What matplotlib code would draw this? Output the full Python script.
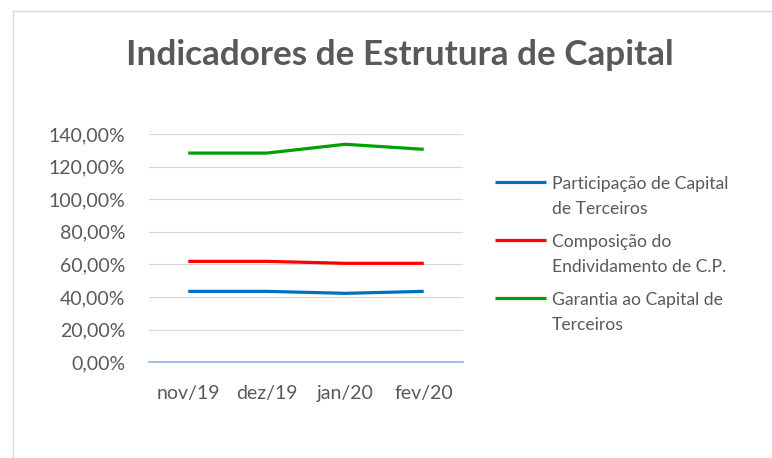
import matplotlib
matplotlib.use("Agg")
import matplotlib.pyplot as plt
from matplotlib.lines import Line2D
from matplotlib.legend_handler import HandlerLine2D
from matplotlib.ticker import FuncFormatter

plt.rcParams['font.family'] = ['Lato', 'DejaVu Sans']

categories = ["nov/19", "dez/19", "jan/20", "fev/20"]
participacao = [43.5, 43.5, 42.3, 43.5]
composicao = [61.9, 61.9, 60.7, 60.7]
garantia = [128.3, 128.3, 133.7, 130.6]
labels = ["Participação de Capital\nde Terceiros",
          "Composição do\nEndividamento de C.P.",
          "Garantia ao Capital de\nTerceiros"]
colors = ["#0070c0", "#ff0000", "#00a000"]
yticks = [0, 20, 40, 60, 80, 100, 120, 140]

TXT = "#595959"
W, H = 772, 458
fig = plt.figure(figsize=(W / 100, H / 100), dpi=100)
fig.patch.set_facecolor("white")

ax = fig.add_axes([149 / W, 1 - 362.3 / H, 314 / W, 228.3 / H])
x = list(range(len(categories)))
series = [participacao, composicao, garantia]
for vals, c, lab in zip(series, colors, labels):
    ax.plot(x, vals, color=c, lw=2.3, label=lab, solid_capstyle="butt", zorder=3)

ax.set_xlim(-0.5, len(categories) - 0.5)
ax.set_ylim(0, 140)
ax.set_yticks(yticks)
ax.yaxis.set_major_formatter(FuncFormatter(lambda v, p: f"{v:.2f}%".replace(".", ",")))
ax.set_xticks(x)
ax.set_xticklabels(categories)
ax.tick_params(axis="both", length=0, labelsize=14, colors=TXT)
ax.tick_params(axis="y", pad=17)
ax.tick_params(axis="x", pad=16)
ax.grid(axis="y", color="#d9d9d9", lw=0.9, zorder=1)
for s in ["top", "right", "left"]:
    ax.spines[s].set_visible(False)
ax.spines["bottom"].set_color("#8db4e2")
ax.spines["bottom"].set_linewidth(1.2)
ax.spines["bottom"].set_zorder(2)

LEG_FS = 12.6
LINESP = 1.72


class FirstLineHandler(HandlerLine2D):
    def create_artists(self, legend, orig_handle, xdescent, ydescent,
                       width, height, fontsize, trans):
        arts = super().create_artists(legend, orig_handle, xdescent, ydescent,
                                      width, height, fontsize, trans)
        for a in arts:
            yd = a.get_ydata()
            a.set_ydata([v + 0.5 * 1.2 * LINESP * fontsize * 0.85 for v in yd])
        return arts


handles = ax.get_lines()
leg = fig.legend(handles, labels, loc="upper left",
                 bbox_to_anchor=(495 / W, 1 - 176 / H),
                 frameon=False, fontsize=LEG_FS, handlelength=2.9,
                 handletextpad=0.35, labelspacing=0.95, borderpad=0,
                 borderaxespad=0,
                 handler_map={Line2D: FirstLineHandler()})
for t in leg.get_texts():
    t.set_color(TXT)
    t.set_linespacing(LINESP)

fig.text(400 / W, 1 - 55 / H, "Indicadores de Estrutura de Capital",
         ha="center", va="center", fontsize=25.3, fontweight="bold", color=TXT)

# chart frame
fig.add_artist(Line2D([13 / W, 13 / W], [0, 1 - 11 / H], transform=fig.transFigure,
                      color="#d9d9d9", lw=1))
fig.add_artist(Line2D([13 / W, 1], [1 - 11 / H, 1 - 11 / H], transform=fig.transFigure,
                      color="#d9d9d9", lw=1))

fig.savefig("out.png", dpi=100)
